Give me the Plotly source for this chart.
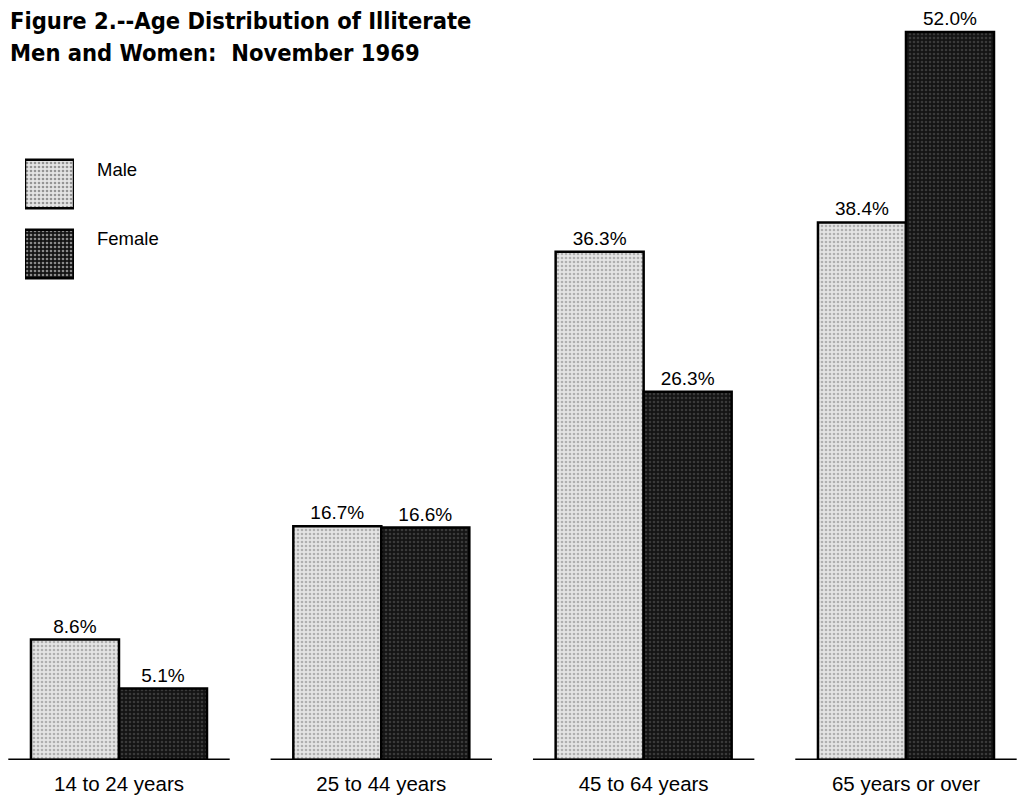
import plotly.graph_objects as go

categories = ["14 to 24 years", "25 to 44 years", "45 to 64 years", "65 years or over"]
male = [8.6, 16.7, 36.3, 38.4]
female = [5.1, 16.6, 26.3, 52.0]
series_names = ["Male", "Female"]
title_lines = ["Figure 2.--Age Distribution of Illiterate", "Men and Women:  November 1969"]

W, H = 1017, 798
M_T, M_B = 4, 38
Y_MAX = 54
xpos = list(range(len(categories)))
X_MIN, X_MAX = -0.4536, 3.4232

FONT = "Liberation Sans, Arial, Helvetica, sans-serif"
TITLE_FONT = "Liberation Sans Narrow, Arial Narrow, DejaVu Sans Condensed, Arial, sans-serif"
MALE_STYLE = dict(bg="#e4e4e4", fg="#7a7a7a")
FEMALE_STYLE = dict(bg="#141414", fg="#606060")
styles = [MALE_STYLE, FEMALE_STYLE]

fig = go.Figure()
for name, vals, st in zip(series_names, [male, female], styles):
    fig.add_trace(go.Bar(
        x=xpos, y=vals, name=name,
        marker=dict(color=st["bg"], line=dict(color="black", width=2.5),
                    pattern=dict(shape=".", fgcolor=st["fg"], bgcolor=st["bg"], size=4, solidity=0.35)),
        texttemplate="%{y:.1f}%", textposition="outside", cliponaxis=False,
        textfont=dict(family=FONT, size=19, color="black"),
        showlegend=False,
    ))

# baseline segments under each group
half = 0.422
bx, by = [], []
for i in xpos:
    bx += [i - half, i + half, None]
    by += [0, 0, None]
fig.add_trace(go.Scatter(x=bx, y=by, mode="lines", line=dict(color="black", width=3),
                         showlegend=False, hoverinfo="skip", cliponaxis=False))

plot_h = H - M_T - M_B
def py(px):
    return (H - M_B - px) / plot_h

# legend swatches as a tiny horizontal bar chart on its own axes
fig.add_trace(go.Bar(
    x=[1, 1], y=[0, 1], orientation="h", xaxis="x2", yaxis="y2", showlegend=False,
    hoverinfo="skip", width=[0.69, 0.69],
    marker=dict(color=[s["bg"] for s in styles], line=dict(color="black", width=2.5),
                pattern=dict(shape=".", fgcolor=[s["fg"] for s in styles],
                             bgcolor=[s["bg"] for s in styles], size=4, solidity=0.35)),
))
for nm, yc in zip(series_names, [170, 238]):
    fig.add_annotation(x=95 / W, y=py(yc), xref="paper", yref="paper",
                       text=nm, showarrow=False, xanchor="left", yanchor="middle",
                       font=dict(family=FONT, size=18.5, color="black"))

for line, yc in zip(title_lines, [21.5, 53.5]):
    fig.add_annotation(x=8 / W, y=py(yc), xref="paper", yref="paper", text="<b>" + line + "</b>",
                       showarrow=False, xanchor="left", yanchor="middle", align="left",
                       font=dict(family=TITLE_FONT, size=23.5, color="black"))

fig.update_layout(
    width=W, height=H, margin=dict(l=0, r=0, t=M_T, b=M_B),
    paper_bgcolor="white", plot_bgcolor="white",
    barmode="group", bargap=0.329, bargroupgap=0,
    xaxis=dict(range=[X_MIN, X_MAX], tickvals=xpos, ticktext=categories, showgrid=False,
               zeroline=False, showline=False, ticks="", ticklabelstandoff=9,
               tickfont=dict(family=FONT, size=20.5, color="black")),
    yaxis=dict(range=[0, Y_MAX], visible=False, showgrid=False, zeroline=False),
    xaxis2=dict(domain=[25 / W, 74 / W], range=[0, 1], visible=False, fixedrange=True),
    yaxis2=dict(domain=[py(289), py(149)], range=[1.5, -0.5], visible=False, fixedrange=True,
                anchor="x2"),
)
fig.write_html("out.html", config={"displayModeBar": False},
               post_script="document.body.style.margin='0';document.body.style.overflow='hidden';")
